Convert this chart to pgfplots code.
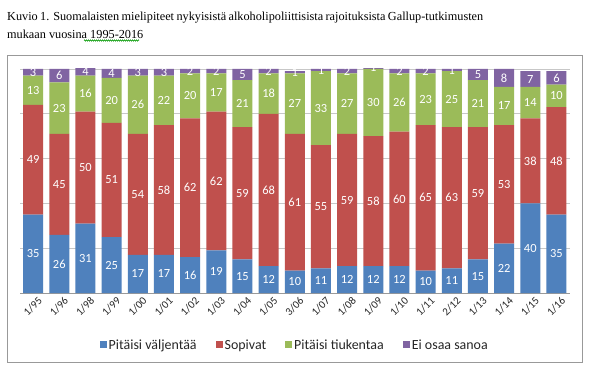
\documentclass[border=0pt]{standalone}
\usepackage{pgfplots}
\pgfplotsset{compat=1.18}
\usepackage{pgfplotstable}
\usepackage{fontspec}
\setmainfont{Carlito}
\newfontfamily\titlefont{Liberation Serif}
\usetikzlibrary{decorations.pathmorphing}
\definecolor{cblue}{HTML}{4F81BD}
\definecolor{cred}{HTML}{C0504D}
\definecolor{cgreen}{HTML}{9BBB59}
\definecolor{cpurple}{HTML}{8064A2}
\pgfplotstableread{
x b r g p
0 35 49 13 3
1 26 45 23 6
2 31 50 16 4
3 25 51 20 4
4 17 54 26 3
5 17 58 22 3
6 16 62 20 2
7 19 62 17 2
8 15 59 21 5
9 12 68 18 2
10 10 61 27 1
11 11 55 33 1
12 12 59 27 2
13 12 58 30 1
14 12 60 26 2
15 10 65 23 2
16 11 63 25 1
17 15 59 21 5
18 22 53 17 8
19 40 38 14 7
20 35 48 10 6
}\data
\begin{document}
\begin{tikzpicture}[x=1bp,y=1bp]
\path[fill=white] (0,0) rectangle (600,370);
\draw[color=black!40, line width=1bp] (7,8) rectangle (582,315);
\node[anchor=base west, inner sep=0] at (7,350) {\titlefont\fontsize{12.3}{14}\selectfont\makebox[476bp][s]{Kuvio 1. Suomalaisten mielipiteet nykyisistä alkoholipoliittisista rajoituksista Gallup-tutkimusten}};
\node[anchor=base west, inner sep=0] at (7,332) {\titlefont\fontsize{12.3}{14}\selectfont mukaan vuosina 1995-2016};
\draw[green!60!black, line width=0.5bp, decorate, decoration={zigzag, segment length=2bp, amplitude=0.7bp}] (84,329.5) -- (139,329.5);
\begin{axis}[
  at={(20bp,77bp)}, anchor=south west,
  width=549.5bp, height=224bp, scale only axis,
  ybar stacked, bar width=20bp,
  xmin=-0.5, xmax=20.5, ymin=0, ymax=100,
  clip=true,
  axis x line*=bottom, axis y line*=left,
  y axis line style={draw=none},
  x axis line style={black!40, line width=0.8bp},
  xtick={0,...,20},
  xticklabels={1/95,1/96,1/98,1/99,1/00,1/01,1/02,1/03,1/04,1/05,3/06,1/07,1/08,1/09,1/10,1/11,2/12,1/13,1/14,1/15,1/16},
  minor xtick={-0.5,0.5,...,20.5},
  ytick={20,40,60,80,100},
  yticklabels={},
  ymajorgrids,
  major grid style={black!22, line width=0.6bp},
  major tick length=0pt,
  minor tick length=3bp,
  tick align=outside,
  minor x tick style={black!40, line width=0.6bp},
  xtick style={draw=none},
  ytick style={draw=none},
  xticklabel style={rotate=45, anchor=north east, font=\fontsize{11}{12}\selectfont, text=black!85, inner sep=1bp, yshift=-4bp, xshift=2bp},
  legend columns=4,
  legend style={at={(0.5,-0.232)}, anchor=center, draw=none, fill=none, font=\fontsize{14}{16}\selectfont, text=black!85, /tikz/every even column/.append style={column sep=17bp}},
  legend image code/.code={\fill[#1,draw=none] (0bp,-3.5bp) rectangle (7bp,3.5bp);},
]
\addplot[fill=cblue, draw=none] table[x=x,y=b]{\data};
\addplot[fill=cred, draw=none] table[x=x,y=r]{\data};
\addplot[fill=cgreen, draw=none] table[x=x,y=g]{\data};
\addplot[fill=cpurple, draw=none] table[x=x,y=p]{\data};
\legend{Pitäisi väljentää, Sopivat, Pitäisi tiukentaa, Ei osaa sanoa}
\end{axis}
\begin{axis}[
  at={(20bp,77bp)}, anchor=south west,
  width=549.5bp, height=224bp, scale only axis,
  xmin=-0.5, xmax=20.5, ymin=0, ymax=100,
  hide axis, clip=false,
  /pgf/number format/assume math mode=true,
  nodes near coords,
  point meta=explicit,
  every node near coord/.append style={anchor=center, text=white, font=\fontsize{12.5}{14}\selectfont},
]
\addplot[draw=none, mark=none] table[x=x, y expr={\thisrow{b}/2}, meta=b]{\data};
\addplot[draw=none, mark=none] table[x=x, y expr={\thisrow{b}+\thisrow{r}/2}, meta=r]{\data};
\addplot[draw=none, mark=none] table[x=x, y expr={\thisrow{b}+\thisrow{r}+\thisrow{g}/2}, meta=g]{\data};
\addplot[draw=none, mark=none] table[x=x, y expr={\thisrow{b}+\thisrow{r}+\thisrow{g}+\thisrow{p}/2}, meta=p]{\data};
\end{axis}
\end{tikzpicture}
\end{document}
